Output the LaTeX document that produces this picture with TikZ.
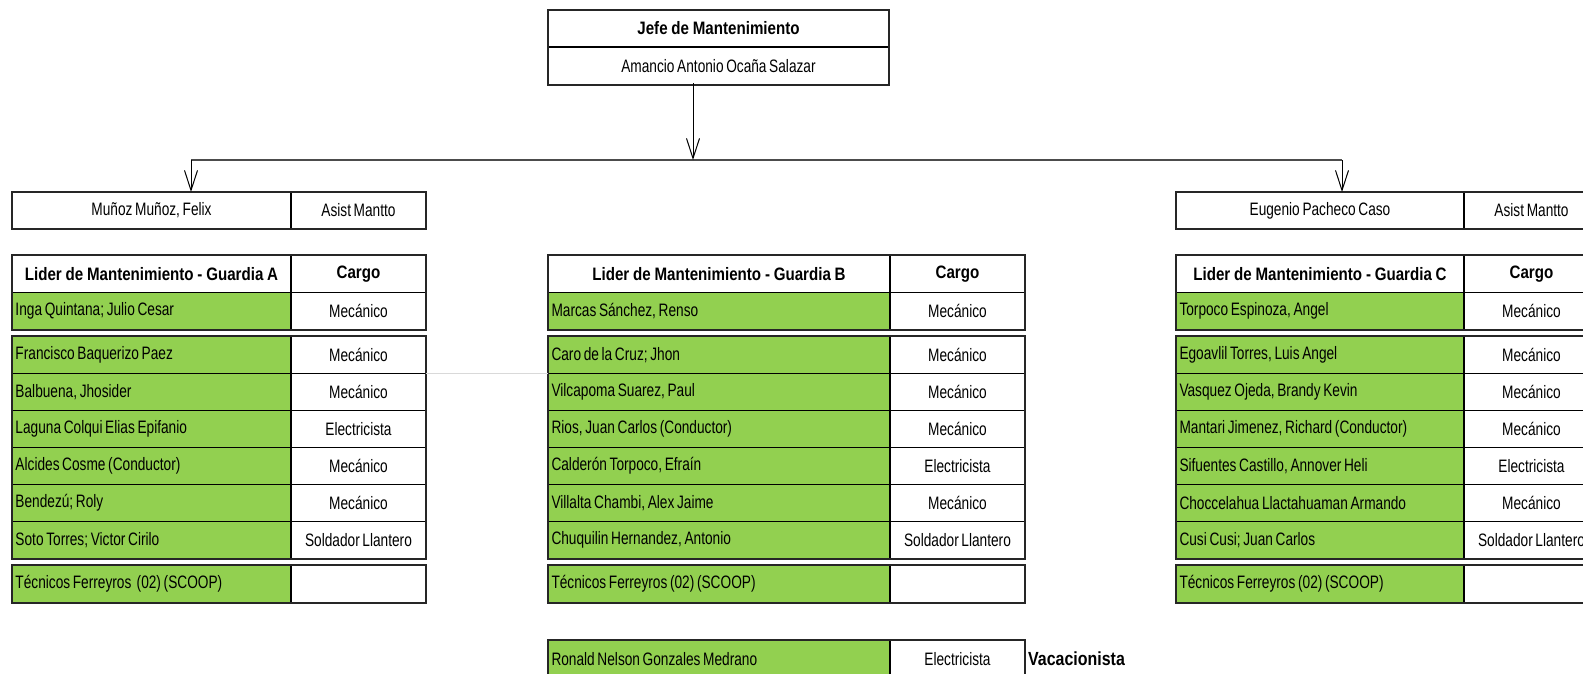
\documentclass[tikz,border=0pt]{standalone}
\usepackage{fontspec}
\setmainfont{Liberation Sans}[FakeStretch=0.76, WordSpace=0.7]
\newfontfamily\hdfont{Liberation Sans}[FakeStretch=0.84, WordSpace=0.9]
\usetikzlibrary{arrows.meta}
\definecolor{cellgreen}{HTML}{92D050}
\tikzset{
  cell/.style={draw=black, line width=1pt, inner xsep=3pt, inner ysep=0pt,
    minimum height=37pt, anchor=north west, fill=white,
    font=\fontsize{18}{20}\selectfont},
  hdcell/.style={cell, font=\hdfont\bfseries\fontsize{18}{20}\selectfont},
  grp/.style={draw=black!85, line width=2pt},
  arr/.style={draw=black, line width=1pt, -{Straight Barb[length=20pt,width=13pt]}},
  hline/.style={draw=black!70, line width=2pt},
  faint/.style={draw=black!15, line width=1pt}
}
% header row: name x y w1 w2 lefttext
\newcommand\hrow[6]{%
  \node[hdcell, minimum width=#4pt] (#1n) at (#2,#3) {#6};
  \node[hdcell, minimum width=#5pt] (#1c) at (#1n.north east) {Cargo};
}
% data row: name x y w1 w2 lefttext righttext
\newcommand\drow[7]{%
  \pgfmathsetmacro\tw{#4-6}
  \node[cell, fill=cellgreen, minimum width=#4pt] (#1n) at (#2,#3) {\makebox[\tw pt][l]{#6}};
  \node[cell, minimum width=#5pt] (#1c) at (#1n.north east) {#7};
}
\begin{document}
\begin{tikzpicture}[x=1pt,y=-1pt]
\useasboundingbox (0,0) rectangle (1583,673);
\clip (0,0) rectangle (1583,673);

% chief box
\node[hdcell, minimum width=340pt, minimum height=36pt] (jefe) at (548,10) {Jefe de Mantenimiento};
\node[cell, minimum width=340pt] (jefen) at (jefe.south west) {Amancio Antonio Ocaña Salazar};
\draw[grp] (jefe.north west) rectangle (jefen.south east);

% assistants
\node[cell, minimum width=278pt, minimum height=36pt] (sa) at (12,192) {Muñoz Muñoz, Felix};
\node[cell, minimum width=134pt, minimum height=36pt] (sac) at (sa.north east) {Asist Mantto};
\draw[grp] (sa.north west) rectangle (sac.south east);
\node[cell, minimum width=287pt, minimum height=36pt] (sc) at (1176,192) {Eugenio Pacheco Caso};
\node[cell, minimum width=134pt, minimum height=36pt] (scc) at (sc.north east) {Asist Mantto};
\draw[grp] (sc.north west) rectangle (scc.south east);

% connectors
\coordinate (vt) at (693,83);
\coordinate (hj) at (693,160);
\coordinate (hl) at (191,160);
\coordinate (hr) at (1342,160);
\draw[hline] (hl) -- (hr);
\draw[arr] (vt) -- (hj);
\draw[arr] (hl) -- (hl |- sa.north);
\draw[arr] (hr) -- (hr |- sc.north);

% ---------- Guardia A ----------
\hrow{A0}{12}{255}{278}{134}{Lider de Mantenimiento - Guardia A}
\drow{A1}{12}{292}{278}{134}{Inga Quintana; Julio Cesar}{Mecánico}
\drow{A2}{12}{336}{278}{134}{Francisco Baquerizo Paez}{Mecánico}
\drow{A3}{12}{373}{278}{134}{Balbuena, Jhosider}{Mecánico}
\drow{A4}{12}{410}{278}{134}{Laguna Colqui Elias Epifanio}{Electricista}
\drow{A5}{12}{447}{278}{134}{Alcides Cosme (Conductor)}{Mecánico}
\drow{A6}{12}{484}{278}{134}{Bendezú; Roly}{Mecánico}
\drow{A7}{12}{521}{278}{134}{Soto Torres; Victor Cirilo}{Soldador Llantero}
\drow{A8}{12}{565}{278}{134}{Técnicos Ferreyros\ \ (02) (SCOOP)}{}
\draw[grp] (A0n.north west) rectangle (A1c.south east);
\draw[grp] (A2n.north west) rectangle (A7c.south east);
\draw[grp] (A8n.north west) rectangle (A8c.south east);

% ---------- Guardia B ----------
\hrow{B0}{548}{255}{341}{134}{Lider de Mantenimiento - Guardia B}
\drow{B1}{548}{292}{341}{134}{Marcas Sánchez, Renso}{Mecánico}
\drow{B2}{548}{336}{341}{134}{Caro de la Cruz; Jhon}{Mecánico}
\drow{B3}{548}{373}{341}{134}{Vilcapoma Suarez, Paul}{Mecánico}
\drow{B4}{548}{410}{341}{134}{Rios, Juan Carlos (Conductor)}{Mecánico}
\drow{B5}{548}{447}{341}{134}{Calderón Torpoco, Efraín}{Electricista}
\drow{B6}{548}{484}{341}{134}{Villalta Chambi, Alex Jaime}{Mecánico}
\drow{B7}{548}{521}{341}{134}{Chuquilin Hernandez, Antonio}{Soldador Llantero}
\drow{B8}{548}{565}{341}{134}{Técnicos Ferreyros (02) (SCOOP)}{}
\drow{B9}{548}{640}{341}{134}{Ronald Nelson Gonzales Medrano}{Electricista}
\draw[grp] (B0n.north west) rectangle (B1c.south east);
\draw[grp] (B2n.north west) rectangle (B7c.south east);
\draw[grp] (B8n.north west) rectangle (B8c.south east);
\draw[grp] (B9n.north west) rectangle (B9c.south east);
\node[anchor=west, inner sep=0pt, font=\hdfont\bfseries\fontsize{19}{21}\selectfont] (vac) at ([xshift=3pt]B9c.east) {Vacacionista};

% faint line between A and B
\draw[faint] (A3c.north east) -- (B3n.north west);

% ---------- Guardia C ----------
\hrow{C0}{1176}{255}{287}{134}{Lider de Mantenimiento - Guardia C}
\drow{C1}{1176}{292}{287}{134}{Torpoco Espinoza, Angel}{Mecánico}
\drow{C2}{1176}{336}{287}{134}{Egoavlil Torres, Luis Angel}{Mecánico}
\drow{C3}{1176}{373}{287}{134}{Vasquez Ojeda, Brandy Kevin}{Mecánico}
\drow{C4}{1176}{410}{287}{134}{Mantari Jimenez, Richard (Conductor)}{Mecánico}
\drow{C5}{1176}{447}{287}{134}{Sifuentes Castillo, Annover Heli}{Electricista}
\drow{C6}{1176}{484}{287}{134}{Choccelahua Llactahuaman Armando}{Mecánico}
\drow{C7}{1176}{521}{287}{134}{Cusi Cusi; Juan Carlos}{Soldador Llantero}
\drow{C8}{1176}{565}{287}{134}{Técnicos Ferreyros (02) (SCOOP)}{}
\draw[grp] (C0n.north west) rectangle (C1c.south east);
\draw[grp] (C2n.north west) rectangle (C7c.south east);
\draw[grp] (C8n.north west) rectangle (C8c.south east);
\end{tikzpicture}
\end{document}
